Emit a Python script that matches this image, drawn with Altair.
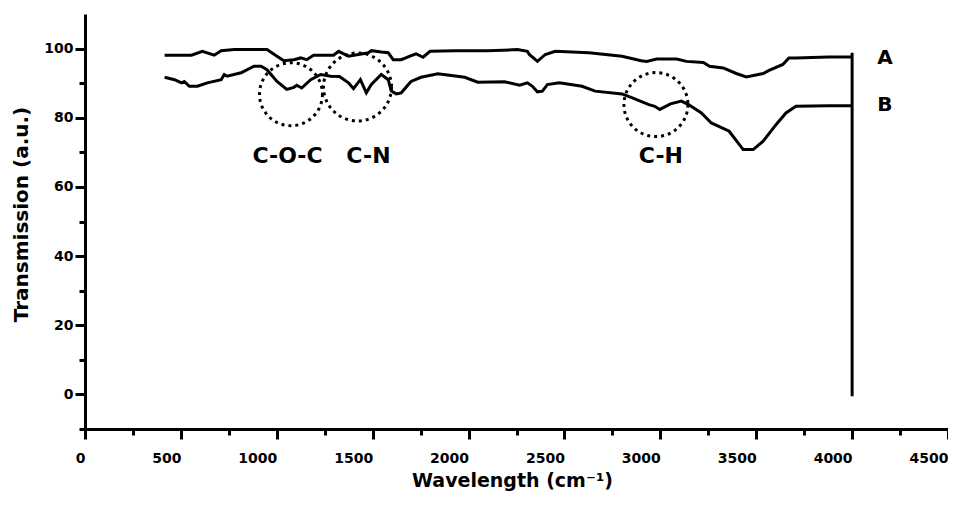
import altair as alt
import pandas as pd

# Curve A (upper spectrum)
wave_a = [415, 555, 612, 674, 710, 778, 949, 1001, 1037, 1089, 1125, 1156, 1192, 1296, 1322,
          1374, 1426, 1478, 1493, 1545, 1581, 1607, 1649, 1695, 1726, 1763, 1799, 1929, 2100, 2255,
          2307, 2317, 2359, 2400, 2452, 2628, 2800, 2900, 2929, 2981, 3085, 3136, 3225, 3256, 3328,
          3396, 3448, 3536, 3567, 3639, 3670, 3707, 3878, 4000]
trans_a = [98.1, 98.1, 99.2, 98.1, 99.4, 99.7, 99.7, 97.8, 96.5, 96.8, 97.3, 96.8, 98.1, 98.1, 99.2,
           97.8, 98.3, 98.8, 99.4, 99.0, 98.8, 96.8, 96.8, 97.8, 98.5, 97.5, 99.2, 99.4, 99.4, 99.7,
           99.2, 98.3, 96.3, 98.3, 99.2, 98.8, 97.8, 96.5, 96.3, 97.0, 97.0, 96.3, 96.0, 94.9, 94.4,
           92.8, 91.8, 92.8, 93.7, 95.4, 97.3, 97.3, 97.6, 97.6]

# Curve B (lower spectrum)
wave_b = [415, 467, 503, 518, 544, 586, 638, 710, 726, 741, 814, 881, 918, 949, 1001,
          1052, 1089, 1104, 1130, 1177, 1229, 1281, 1327, 1374, 1400, 1436, 1467, 1493, 1545, 1581,
          1597, 1623, 1649, 1700, 1752, 1840, 1980, 2048, 2188, 2266, 2307, 2333, 2359, 2385, 2411,
          2473, 2592, 2660, 2800, 2851, 2940, 2971, 2997, 3053, 3110, 3147, 3214, 3266, 3359, 3432,
          3484, 3536, 3603, 3655, 3707, 3878, 4000]
trans_b = [91.7, 91.0, 90.1, 90.5, 89.1, 89.1, 90.1, 91.0, 92.5, 92.0, 93.0, 94.9, 94.9, 93.9, 90.5,
           88.2, 88.8, 89.4, 88.6, 91.0, 92.5, 92.0, 91.9, 90.1, 88.4, 91.0, 87.2, 89.6, 92.5, 91.0,
           87.7, 86.9, 87.2, 90.5, 91.7, 92.7, 91.7, 90.3, 90.4, 89.4, 90.1, 89.1, 87.5, 87.7, 89.6,
           90.1, 89.1, 87.7, 86.9, 85.8, 83.8, 83.3, 82.4, 84.0, 84.8, 83.8, 81.4, 78.5, 76.1, 70.8,
           70.8, 73.2, 78.0, 81.4, 83.3, 83.5, 83.5]

# Series labels
series_names = ["A", "B"]
series_label_x = [4171, 4171]
series_label_y = [97.3, 83.8]

# Band annotations
band_names = ["C-O-C", "C-N", "C-H"]
band_label_x = [1056, 1478, 3003]
band_label_y = [68.8, 68.8, 68.8]
circle_x = [1074, 1421, 2977]
circle_y = [86.8, 88.9, 83.8]
circle_size = [3969, 4624, 4096]

# Vertical end rule
rule_x = [4000]
rule_y = [-0.5]
rule_y2 = [98.8]

FONT = "DejaVu Sans"

df_a = pd.DataFrame({"w": wave_a, "t": trans_a})
df_b = pd.DataFrame({"w": wave_b, "t": trans_b})
df_lab = pd.DataFrame({"w": series_label_x, "t": series_label_y, "s": series_names})
df_band = pd.DataFrame({"w": band_label_x, "t": band_label_y, "s": band_names})
df_circ = pd.DataFrame({"w": circle_x, "t": circle_y, "size": circle_size})
df_rule = pd.DataFrame({"w": rule_x, "t": rule_y, "t2": rule_y2})

x_scale = alt.Scale(domain=[0, 4500], nice=False, zero=False)
y_scale = alt.Scale(domain=[-10, 110], nice=False, zero=False)

x_axis = alt.Axis(
    values=list(range(0, 4501, 250)),
    labelExpr="datum.value % 500 === 0 ? datum.label : ''",
    tickSize={"condition": {"test": "datum.value % 500 === 0", "value": 10}, "value": 6},
    format="d",
    labelAlign="right",
    labelFlush=False,
    labelOverlap=False,
    labelPadding=12,
    labelFont=FONT, labelFontSize=14, labelFontWeight="bold", labelColor="black",
    grid=False,
    domainWidth=3, domainColor="black",
    tickWidth=3, tickColor="black",
    title="Wavelength (cm⁻¹)",
    titleFont=FONT, titleFontSize=19, titleFontWeight="bold", titleColor="black",
    titleBaseline="alphabetic", titleY=57, titleX=427,
)
y_axis = alt.Axis(
    values=list(range(-10, 101, 10)),
    labelExpr="datum.value % 20 === 0 ? datum.label : ''",
    tickSize={"condition": {"test": "datum.value % 20 === 0", "value": 10}, "value": 6},
    format="d",
    labelOverlap=False,
    labelPadding=2,
    labelFont=FONT, labelFontSize=14, labelFontWeight="bold", labelColor="black",
    grid=False,
    domainWidth=3, domainColor="black",
    tickWidth=3, tickColor="black",
    title="Transmission (a.u.)",
    titleFont=FONT, titleFontSize=20, titleFontWeight="bold", titleColor="black",
    titleBaseline="alphabetic", titleAngle=270, titleX=-58, titleY=200,
)

X = alt.X("w:Q", scale=x_scale, axis=x_axis)
Y = alt.Y("t:Q", scale=y_scale, axis=y_axis)

line_a = alt.Chart(df_a).mark_line(color="black", strokeWidth=3).encode(x=X, y=Y, order="w:Q")
line_b = alt.Chart(df_b).mark_line(color="black", strokeWidth=3).encode(x=X, y=Y, order="w:Q")

rule = alt.Chart(df_rule).mark_rule(color="black", strokeWidth=3).encode(
    x=X, y=Y, y2="t2:Q")

circles = alt.Chart(df_circ).mark_point(
    shape="circle", filled=False, color="black", strokeWidth=3, strokeDash=[3, 4], opacity=1
).encode(x=X, y=Y, size=alt.Size("size:Q", scale=None, legend=None))

series_text = alt.Chart(df_lab).mark_text(
    font=FONT, fontSize=20, fontWeight="bold", color="black", align="center", baseline="middle"
).encode(x=X, y=Y, text="s:N")

band_text = alt.Chart(df_band).mark_text(
    font=FONT, fontSize=22, fontWeight="bold", color="black", align="center", baseline="middle"
).encode(x=X, y=Y, text="s:N")

chart = alt.layer(line_a, line_b, rule, circles, series_text, band_text).properties(
    width=863, height=415,
    autosize=alt.AutoSizeParams(type="none"),
    padding={"left": 77, "top": 6, "right": 0, "bottom": 63},
).configure(background="white").configure_view(stroke=None, strokeWidth=0)

chart.save("out.html", embed_options={"renderer": "svg", "actions": False})
